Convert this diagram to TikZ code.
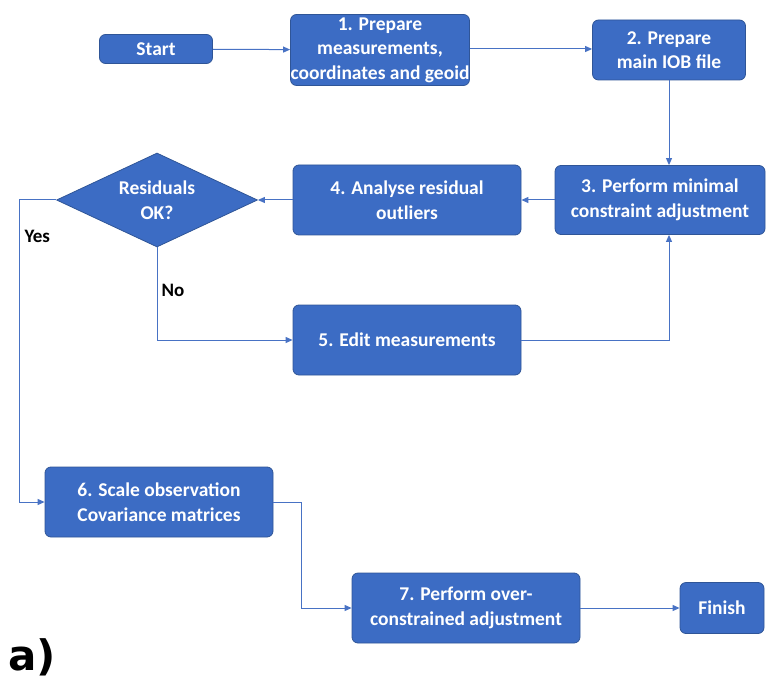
\documentclass[tikz,border=0pt]{standalone}
\usepackage{fontspec}
\setmainfont{Carlito}
\newfontfamily\labelfont{DejaVu Sans}
\usetikzlibrary{shapes.geometric,arrows.meta}
\definecolor{boxfill}{RGB}{60,108,196}
\definecolor{boxline}{RGB}{47,85,151}
\definecolor{conn}{RGB}{72,114,196}
\begin{document}
\begin{tikzpicture}[x=1pt,y=-1pt,
  box/.style={draw=boxline,line width=0.8pt,fill=boxfill,rounded corners=6pt,text=white,
    font=\fontsize{19.5}{24.5}\selectfont\bfseries,align=center,inner sep=0pt},
  dia/.style={draw=boxline,line width=0.8pt,fill=boxfill,diamond,aspect=2.14,text=white,
    font=\fontsize{19.5}{24.5}\selectfont\bfseries,align=center,inner sep=0pt,
    minimum width=201pt,minimum height=94pt},
  conn/.style={draw=conn,line width=1pt,-{Triangle[length=7pt,width=6pt]}},
  lab/.style={font=\fontsize{19}{22}\selectfont\bfseries,text=black}]
\useasboundingbox (0,0) rectangle (767,684);
\node[box,minimum width=113pt,minimum height=29pt] (start) at (156,49) {Start};
\node[box,minimum width=173pt,minimum height=71pt] (b1) at (380,50) {1. Prepare\\measurements,\\coordinates and geoid};
\node[box,minimum width=153pt,minimum height=60pt] (b2) at (669,50) {2. Prepare\\main IOB file};
\node[box,minimum width=210pt,minimum height=69pt] (b3) at (660,200) {3. Perform minimal\\constraint adjustment};
\node[box,minimum width=228pt,minimum height=70pt] (b4) at (407,200) {4. Analyse residual\\outliers};
\node[dia] (d) at (157,200) {Residuals\\OK?};
\node[box,minimum width=228pt,minimum height=70pt] (b5) at (407,340) {5. Edit measurements};
\node[box,minimum width=228pt,minimum height=70pt] (b6) at (159,502) {6. Scale observation\\Covariance matrices};
\node[box,minimum width=228pt,minimum height=70pt] (b7) at (466,608) {7. Perform over-\\constrained adjustment};
\node[box,minimum width=84pt,minimum height=51pt] (fin) at (722,608) {Finish};
\coordinate (yc) at (19,200);
\coordinate (nc) at (157,340);
\coordinate (ec) at (669,340);
\coordinate (sc) at (301,502);
\path[conn] (start) -- (b1);
\path[conn] (b1.east |- start) -- (b2.west |- start);
\path[conn] (b2.south -| 669,0) -- (b3.north -| 669,0);
\path[conn] (b3) -- (b4);
\path[conn] (b4) -- (d.east);
\path[conn] (d.west) -- (yc) |- (b6.west);
\path[conn] (d.south) -- (nc) -- (b5.west);
\path[conn] (b5.east) -- (ec) -- (b3.south -| ec);
\path[conn] (b6.east) -- (sc) |- (b7.west);
\path[conn] (b7) -- (fin);
\node[lab,anchor=west] (yes) at (21,236) {Yes};
\node[lab,anchor=west] (no) at (158,290) {No};
\node[font=\labelfont\fontsize{42}{46}\selectfont\bfseries,anchor=base west,inner sep=0pt] (a) at (8,670) {a)};
\end{tikzpicture}
\end{document}
